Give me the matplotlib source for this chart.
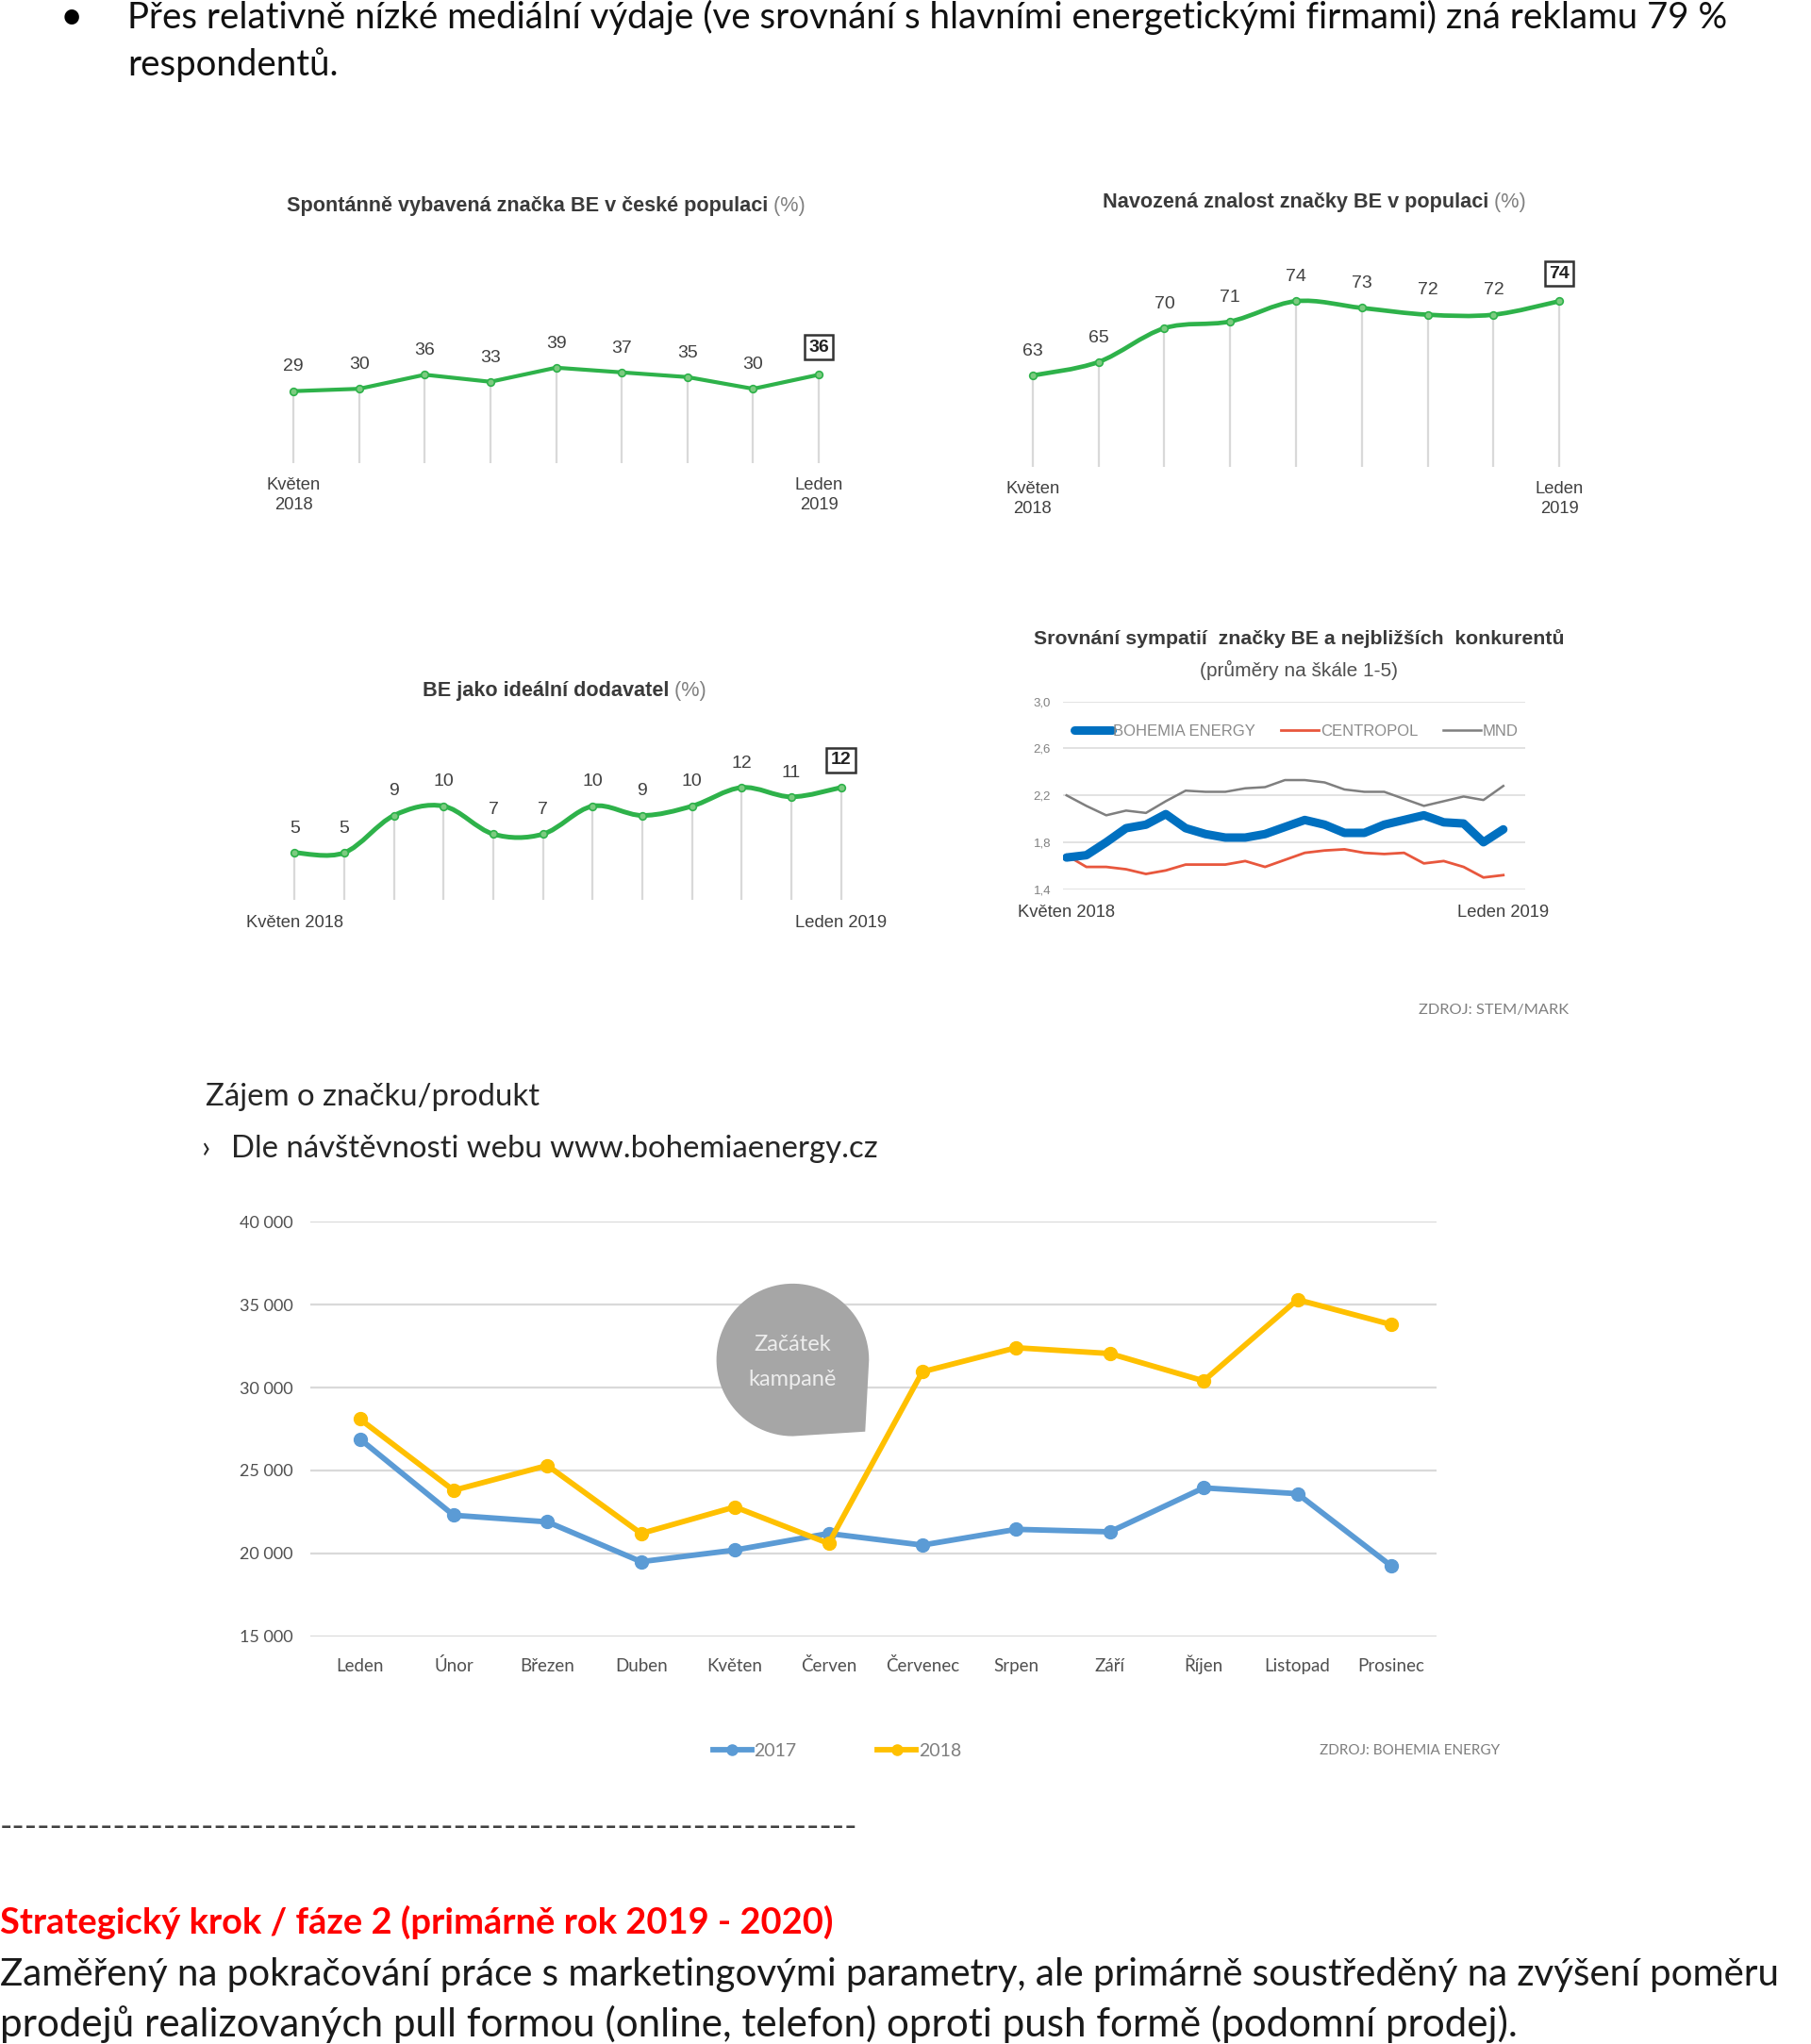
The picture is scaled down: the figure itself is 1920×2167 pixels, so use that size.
import numpy as np
import matplotlib
matplotlib.use("Agg")
import matplotlib.pyplot as plt
from matplotlib.path import Path
from matplotlib.patches import PathPatch

# ---------------- data ----------------
small_ticks_2 = ["Květen\n2018", "Leden\n2019"]
small_ticks_1 = ["Květen 2018", "Leden 2019"]
spont_values = [29, 30, 36, 33, 39, 37, 35, 30, 36]
navoz_values = [63, 65, 70, 71, 74, 73, 72, 72, 74]
ideal_values = [5, 5, 9, 10, 7, 7, 10, 9, 10, 12, 11, 12]

sympatie_series = ["BOHEMIA ENERGY", "CENTROPOL", "MND"]
be_values = [1.67, 1.69, 1.80, 1.92, 1.95, 2.04, 1.92, 1.87, 1.84, 1.84, 1.87, 1.93,
             1.99, 1.95, 1.88, 1.88, 1.95, 1.99, 2.03, 1.97, 1.96, 1.80, 1.91]
centropol_values = [1.69, 1.59, 1.59, 1.57, 1.53, 1.56, 1.61, 1.61, 1.61, 1.64, 1.59, 1.65,
                    1.71, 1.73, 1.74, 1.71, 1.70, 1.71, 1.62, 1.64, 1.59, 1.50, 1.52]
mnd_values = [2.20, 2.11, 2.03, 2.07, 2.05, 2.15, 2.24, 2.23, 2.23, 2.26, 2.27, 2.33,
              2.33, 2.31, 2.25, 2.23, 2.23, 2.17, 2.11, 2.15, 2.19, 2.16, 2.28]
sympatie_ticks = [1.4, 1.8, 2.2, 2.6, 3.0]
sympatie_tick_labels = ["1,4", "1,8", "2,2", "2,6", "3,0"]

web_months = ["Leden", "Únor", "Březen", "Duben", "Květen", "Červen", "Červenec",
              "Srpen", "Září", "Říjen", "Listopad", "Prosinec"]
visits_2017 = [26900, 22300, 21900, 19500, 20200, 21200, 20500, 21450, 21300, 23950, 23600, 19250]
visits_2018 = [28100, 23800, 25300, 21200, 22800, 20600, 30950, 32400, 32050, 30400, 35300, 33800]
web_yticks = [15000, 20000, 25000, 30000, 35000, 40000]
web_ytick_labels = ["15 000", "20 000", "25 000", "30 000", "35 000", "40 000"]
web_series = ["2017", "2018"]

# ---------------- layout helpers ----------------
W_D = 1389.0
SC = 1920.0 / W_D
H_D = 2167.0 / SC
ARIAL = "Liberation Sans"
BODY = "Lato"
GREEN = "#2EB24A"
TITLE_SIZE = 15.6

fig = plt.figure(figsize=(19.2, 21.67), dpi=100)
fig.patch.set_facecolor("white")
oax = fig.add_axes([0, 0, 1, 1], zorder=5)
oax.set_xlim(0, W_D)
oax.set_ylim(H_D, 0)
oax.axis("off")
oax.patch.set_alpha(0)
renderer = fig.canvas.get_renderer()


def lin(pa, va, pb, vb):
    return lambda p: va + (p - pa) * (vb - va) / (pb - pa)


def make_ax(xl, xr, yt, yb, xmap, ymap):
    ax = fig.add_axes([xl / W_D, 1 - yb / H_D, (xr - xl) / W_D, (yb - yt) / H_D])
    ax.set_xlim(xmap(xl), xmap(xr))
    ax.set_ylim(ymap(yb), ymap(yt))
    ax.patch.set_alpha(0)
    for s in ax.spines.values():
        s.set_visible(False)
    return ax


def smooth_path(x, y):
    pts = np.column_stack([x, y]).astype(float)
    n = len(pts)
    verts = [pts[0]]
    codes = [Path.MOVETO]
    for i in range(n - 1):
        p0 = pts[i - 1] if i > 0 else pts[i]
        p1 = pts[i]
        p2 = pts[i + 1]
        p3 = pts[i + 2] if i + 2 < n else pts[i + 1]
        verts += [p1 + (p2 - p0) / 6.0, p2 - (p3 - p1) / 6.0, p2]
        codes += [Path.CURVE4] * 3
    return Path(verts, codes)


def two_part_title(xc, y, bold, rest, size):
    t1 = oax.text(0, y, bold, fontsize=size, weight="bold", family=ARIAL,
                  color="#3A3A3A", ha="left", va="center")
    t2 = oax.text(0, y, rest, fontsize=size, family=ARIAL, color="#808080",
                  ha="left", va="center")
    w1 = t1.get_window_extent(renderer).width / SC
    w2 = t2.get_window_extent(renderer).width / SC
    x0 = xc - (w1 + w2) / 2
    t1.set_x(x0)
    t2.set_x(x0 + w1)


def small_chart(values, ticklabels, box, xmap, ymap, smooth, lw, tick_pad):
    xl, xr, yt, yb = box
    ax = make_ax(xl, xr, yt, yb, xmap, ymap)
    x = np.arange(len(values))
    base = ymap(yb)
    ax.vlines(x, base, values, color="#D9D9D9", lw=1.6, zorder=1)
    if smooth:
        ax.add_patch(PathPatch(smooth_path(x, values), fill=False, ec=GREEN, lw=lw,
                               capstyle="round", joinstyle="round", zorder=2, clip_on=False))
    else:
        ax.plot(x, values, color=GREEN, lw=lw, zorder=2, clip_on=False,
                solid_joinstyle="round")
    ax.plot(x, values, "o", ms=5.5, mfc="#7CCB80", mec=GREEN, mew=1.2, zorder=3, clip_on=False)
    n = len(values)
    for i, v in enumerate(values):
        if i == n - 1:
            ax.annotate(str(v), (i, v), xytext=(0, 21), textcoords="offset points",
                        ha="center", va="center", fontsize=14, weight="bold",
                        family=ARIAL, color="#222222",
                        bbox=dict(boxstyle="square,pad=0.22", fc="white", ec="#333333", lw=1.8),
                        annotation_clip=False)
        else:
            ax.annotate(str(v), (i, v), xytext=(0, 18.5), textcoords="offset points",
                        ha="center", va="center", fontsize=14, family=ARIAL,
                        color="#404040", annotation_clip=False)
    ax.set_xticks([0, n - 1])
    ax.set_xticklabels(ticklabels, family=ARIAL, linespacing=1.3)
    ax.tick_params(axis="x", length=0, pad=tick_pad, labelsize=13.2, labelcolor="#404040")
    ax.set_yticks([])
    return ax


# ---------------- top text ----------------
oax.text(55, 14, "•", fontsize=30, family=BODY, color="black", ha="center", va="center")
oax.text(98, 22, "Přes relativně nízké mediální výdaje (ve srovnání s hlavními energetickými "
         "firmami) zná reklamu 79 %", fontsize=27.6, family=BODY, color="#111111",
         ha="left", va="baseline")
oax.text(98, 58, "respondentů.", fontsize=27.6, family=BODY, color="#111111",
         ha="left", va="baseline")

# ---------------- chart 1 ----------------
two_part_title(419, 158, "Spontánně vybavená značka BE v české populaci", " (%)", TITLE_SIZE)
small_chart(spont_values, small_ticks_2, (205, 650, 240, 355),
            lin(225, 0, 628, 8), lin(300, 29, 282, 39), False, 3.0, 11)

# ---------------- chart 2 ----------------
two_part_title(1008, 155, "Navozená znalost značky BE v populaci", " (%)", TITLE_SIZE)
small_chart(navoz_values, small_ticks_2, (772, 1218, 190, 358),
            lin(792, 0, 1196, 8), lin(288, 63, 231, 74), True, 3.4, 11)

# ---------------- chart 3 ----------------
two_part_title(433, 530, "BE jako ideální dodavatel", " (%)", TITLE_SIZE)
small_chart(ideal_values, small_ticks_1, (205, 668, 570, 690),
            lin(226, 0, 645, 11), lin(654, 5, 604, 12), True, 3.6, 12)

# ---------------- chart 4 ----------------
oax.text(996, 490, "Srovnání sympatií  značky BE a nejbližších  konkurentů", fontsize=15.3,
         weight="bold", family=ARIAL, color="#3A3A3A", ha="center", va="center")
oax.text(996, 514, "(průměry na škále 1-5)", fontsize=15, family=ARIAL,
         color="#505050", ha="center", va="center")
ax4 = make_ax(815, 1170, 538, 682, lin(818, 0, 1153, 22), lin(538, 3.0, 682, 1.4))
xs = np.arange(len(be_values))
l_be, = ax4.plot(xs, be_values, color="#0070C0", lw=6.5, solid_joinstyle="round",
                 solid_capstyle="round", zorder=4)
l_ce, = ax4.plot(xs, centropol_values, color="#E8573D", lw=2.0, zorder=3)
l_mn, = ax4.plot(xs, mnd_values, color="#7F7F7F", lw=1.8, zorder=3)
ax4.set_yticks(sympatie_ticks)
ax4.set_yticklabels(sympatie_tick_labels, family=ARIAL)
ax4.tick_params(axis="y", length=0, pad=9, labelsize=9.5, labelcolor="#808080")
ax4.yaxis.grid(True, color="#DDDDDD", lw=1.2)
ax4.set_axisbelow(True)
ax4.set_xticks([0, len(be_values) - 1])
ax4.set_xticklabels(["Květen 2018", "Leden 2019"], family=ARIAL)
ax4.tick_params(axis="x", length=0, pad=12, labelsize=13.2, labelcolor="#404040")
leg4 = ax4.legend([l_be, l_ce, l_mn], sympatie_series, loc="center",
                  bbox_to_anchor=(994 / W_D, 1 - 561 / H_D), bbox_transform=fig.transFigure,
                  ncol=3, frameon=False, handlelength=2.4, handletextpad=0.1,
                  columnspacing=1.6, prop={"family": ARIAL, "size": 12})
for t in leg4.get_texts():
    t.set_color("#8A8A8A")
oax.text(1203, 775, "ZDROJ: STEM/MARK", fontsize=11.8, family=BODY, color="#7F7F7F",
         ha="right", va="center")

# ---------------- bottom section ----------------
oax.text(158, 848, "Zájem o značku/produkt", fontsize=23.7, family=BODY, color="#262626",
         ha="left", va="baseline")
oax.text(155, 888, "›", fontsize=23.7, family=BODY, color="#262626", ha="left", va="baseline")
oax.text(177, 888, "Dle návštěvnosti webu www.bohemiaenergy.cz", fontsize=23.7, family=BODY,
         color="#262626", ha="left", va="baseline")

ax5 = make_ax(238, 1102, 937, 1255, lin(276, 0, 1067, 11), lin(937, 40000, 1255, 15000))
xm = np.arange(len(web_months))
l17, = ax5.plot(xm, visits_2017, color="#5B9BD5", lw=4.2, marker="o", ms=10,
                solid_joinstyle="round", zorder=3, clip_on=False)
l18, = ax5.plot(xm, visits_2018, color="#FFC000", lw=4.2, marker="o", ms=10,
                solid_joinstyle="round", zorder=4, clip_on=False)
ax5.set_yticks(web_yticks)
ax5.set_yticklabels(web_ytick_labels, family=BODY)
ax5.tick_params(axis="y", length=0, pad=13, labelsize=13, labelcolor="#505050")
ax5.set_xticks(xm)
ax5.set_xticklabels(web_months, family=BODY)
ax5.tick_params(axis="x", length=0, pad=27, labelsize=13.5, labelcolor="#505050")
for lbl in ax5.get_xticklabels():
    lbl.set_verticalalignment("baseline")
ax5.yaxis.grid(True, color="#D9D9D9", lw=1.6)
ax5.set_axisbelow(True)
leg5 = ax5.legend([l17, l18], web_series, loc="center",
                  bbox_to_anchor=(642 / W_D, 1 - 1343 / H_D), bbox_transform=fig.transFigure,
                  ncol=2, frameon=False, handlelength=2.1, handletextpad=0.15,
                  columnspacing=4.4, markerscale=0.8, prop={"family": BODY, "size": 14})
for t in leg5.get_texts():
    t.set_color("#7F7F7F")
oax.text(1150, 1343, "ZDROJ: BOHEMIA ENERGY", fontsize=11, family=BODY, color="#7F7F7F",
         ha="right", va="center")

# callout bubble "Začátek kampaně"
cx, cy, r = 608, 1043, 58.5
th = np.linspace(0, 1.5 * np.pi, 80)
bx = list(cx + r * np.cos(th)) + [cx + 0.95 * r, cx + r]
by = list(cy - r * np.sin(th)) + [cy + 0.94 * r, cy]
bubble = Path(np.column_stack([bx, by]), closed=False)
oax.add_patch(PathPatch(bubble, fc="#A6A6A6", ec="none", zorder=2))
oax.text(cx, 1031, "Začátek", fontsize=17, family=BODY, color="#EDEDED",
         ha="center", va="center", zorder=3)
oax.text(cx, 1058, "kampaně", fontsize=17, family=BODY, color="#EDEDED",
         ha="center", va="center", zorder=3)

# dashed separator
probe = oax.text(0, 0, "-" * 20, fontsize=26, family=BODY)
wd = probe.get_window_extent(renderer).width / SC / 20
probe.remove()
oax.text(0, 1402, "-" * int(round(658 / wd)), fontsize=26, family=BODY, color="#404040",
         ha="left", va="center")

oax.text(0, 1483, "Strategický krok / fáze 2 (primárně rok 2019 - 2020)", fontsize=27.4,
         weight="bold", family=BODY, color="#FF0000", ha="left", va="baseline")
oax.text(0, 1523, "Zaměřený na pokračování práce s marketingovými parametry, ale primárně "
         "soustředěný na zvýšení poměru", fontsize=29.0, family=BODY, color="#1A1A1A",
         ha="left", va="baseline")
oax.text(0, 1562, "prodejů realizovaných pull formou (online, telefon) oproti push formě "
         "(podomní prodej).", fontsize=30.3, family=BODY, color="#1A1A1A",
         ha="left", va="baseline")

fig.savefig("out.png", dpi=100, facecolor="white")
